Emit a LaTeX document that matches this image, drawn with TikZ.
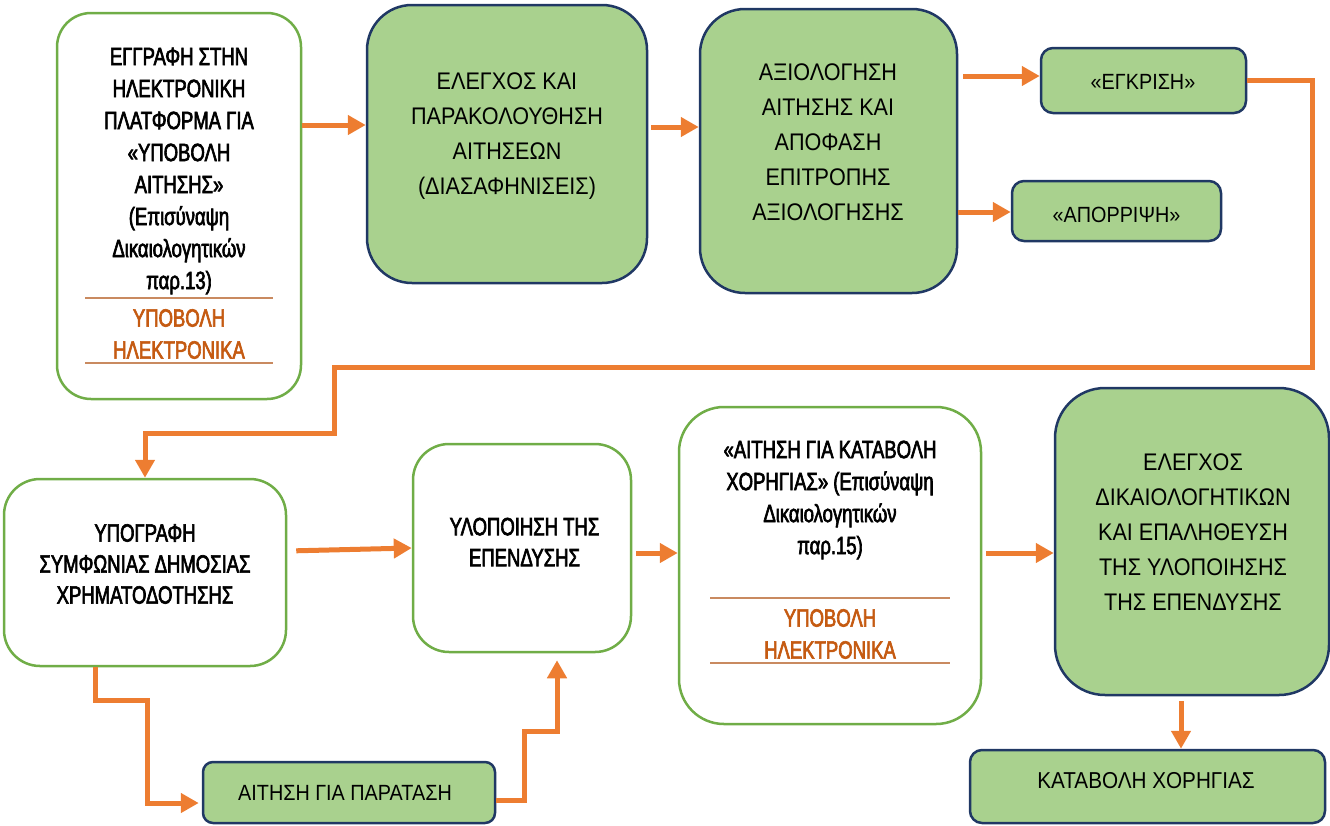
\documentclass[tikz,border=0pt]{standalone}
\usepackage{fontspec}
\setmainfont{Liberation Sans}[FakeStretch=0.9]
\newfontfamily\narrowfont{Liberation Sans}[FakeStretch=0.74,FakeBold=2.5]
\usepackage{tikz}
\usetikzlibrary{arrows.meta}
\usetikzlibrary{calc}
\definecolor{fillgreen}{HTML}{A9D18E}
\definecolor{navy}{HTML}{203864}
\definecolor{leafgreen}{HTML}{70AD47}
\definecolor{flowor}{HTML}{ED7D31}
\definecolor{rust}{HTML}{C55A11}
\definecolor{tan}{HTML}{C98A60}
\tikzset{whitebox/.style={rectangle, draw=leafgreen, line width=2.5pt, fill=white}}
\tikzset{greenbox/.style={rectangle, draw=navy, line width=2.5pt, fill=fillgreen}}
\tikzset{flow/.style={draw=flowor, line width=5pt, -{Triangle[length=18pt,width=19pt]}}}
\tikzset{sepline/.style={draw=tan, line width=1.5pt}}
\tikzset{txt/.style={align=center, inner sep=0pt, font=\fontsize{24}{35}\selectfont}}
\tikzset{narrowtxt/.style={align=center, inner sep=0pt, font=\narrowfont\fontsize{25}{32}\selectfont}}
\tikzset{%
  apply style/.code={%
    \tikzset{#1}%
  }
}

\begin{document}
\begin{tikzpicture}[x=1pt,y=-1pt]
  \useasboundingbox (0,0) rectangle (1330,825);
  \foreach \x/\y/\w/\h/\r/\sty/\name in {
    179/206/244/386/34/whitebox/reg,
    507/144/280/278/45/greenbox/check,
    828.5/151/257/284/45/greenbox/eval,
    1143.5/80.5/205/65/12/greenbox/approve,
    1116.5/211/209/60/12/greenbox/reject,
    145/572.5/282/187/36/whitebox/sign,
    522/548/218/208/36/whitebox/impl,
    830/565.5/302/317/45/whitebox/claim,
    1192/541.5/274/307/50/greenbox/verify,
    349/792.5/292/61/10/greenbox/extend,
    1147.5/786.5/355/73/12/greenbox/pay%
  } {
    \node[apply style/.expand once=\sty, minimum width=\w, minimum height=\h,
      rounded corners=\r] (\name) at (\x,\y) {};
  }

  % texts
  \node[narrowtxt] (regtxt) at (179,171) {ΕΓΓΡΑΦΗ ΣΤΗΝ\\ΗΛΕΚΤΡΟΝΙΚΗ\\ΠΛΑΤΦΟΡΜΑ ΓΙΑ\\«ΥΠΟΒΟΛΗ\\ΑΙΤΗΣΗΣ»\\(Επισύναψη\\Δικαιολογητικών\\παρ.13)};
  \node[narrowtxt, text=rust] (regweb) at (179,334) {ΥΠΟΒΟΛΗ\\ΗΛΕΚΤΡΟΝΙΚΑ};
  \node[txt] (checktxt) at (507,136) {ΕΛΕΓΧΟΣ ΚΑΙ\\ΠΑΡΑΚΟΛΟΥΘΗΣΗ\\ΑΙΤΗΣΕΩΝ\\(ΔΙΑΣΑΦΗΝΙΣΕΙΣ)};
  \node[txt] (evaltxt) at (828,142) {ΑΞΙΟΛΟΓΗΣΗ\\ΑΙΤΗΣΗΣ ΚΑΙ\\ΑΠΟΦΑΣΗ\\ΕΠΙΤΡΟΠΗΣ\\ΑΞΙΟΛΟΓΗΣΗΣ};
  \node[txt, font=\fontsize{22}{30}\selectfont] (approvetxt) at (1143,82) {«ΕΓΚΡΙΣΗ»};
  \node[txt, font=\fontsize{22}{30}\selectfont] (rejecttxt) at (1116.5,215) {«ΑΠΟΡΡΙΨΗ»};
  \node[narrowtxt, font=\narrowfont\fontsize{25}{31}\selectfont] (signtxt) at (145,564) {ΥΠΟΓΡΑΦΗ\\ΣΥΜΦΩΝΙΑΣ ΔΗΜΟΣΙΑΣ\\ΧΡΗΜΑΤΟΔΟΤΗΣΗΣ};
  \node[narrowtxt, font=\narrowfont\fontsize{25}{31}\selectfont] (impltxt) at (524.5,542) {ΥΛΟΠΟΙΗΣΗ ΤΗΣ\\ΕΠΕΝΔΥΣΗΣ};
  \node[narrowtxt] (claimtxt) at (830,500) {«ΑΙΤΗΣΗ ΓΙΑ ΚΑΤΑΒΟΛΗ\\ΧΟΡΗΓΙΑΣ» (Επισύναψη\\Δικαιολογητικών\\παρ.15)};
  \node[narrowtxt, text=rust] (claimweb) at (830,634) {ΥΠΟΒΟΛΗ\\ΗΛΕΚΤΡΟΝΙΚΑ};
  \node[txt] (verifytxt) at (1193,532) {ΕΛΕΓΧΟΣ\\ΔΙΚΑΙΟΛΟΓΗΤΙΚΩΝ\\ΚΑΙ ΕΠΑΛΗΘΕΥΣΗ\\ΤΗΣ ΥΛΟΠΟΙΗΣΗΣ\\ΤΗΣ ΕΠΕΝΔΥΣΗΣ};
  \node[txt, font=\fontsize{22}{30}\selectfont] (extendtxt) at (345,793) {ΑΙΤΗΣΗ ΓΙΑ ΠΑΡΑΤΑΣΗ};
  \node[txt, font=\fontsize{23}{30}\selectfont] (paytxt) at (1146,781) {ΚΑΤΑΒΟΛΗ ΧΟΡΗΓΙΑΣ};

  % rules round the web note
  \draw[sepline] (85,298) -- (273,298);
  \draw[sepline] (85,363) -- (273,363);
  \draw[sepline] (710,598) -- (950,598);
  \draw[sepline] (710,663) -- (950,663);

  % arrows
  \draw[flow] (reg.east |- 0,125) -- (check.west |- 0,125);
  \draw[flow, shorten <=3pt] (check.east |- 0,127) -- (eval.west |- 0,127);
  \draw[flow, shorten <=5pt] (eval.east |- 0,76) -- (approve.west |- 0,76);
  \draw[flow] (eval.east |- 0,212) -- (reject.west |- 0,212);
  \draw[flow] (approve.east |- 0,80) -| (1312,367) -| (334,433) -| (sign.north);
  \draw[flow, shorten <=9pt] (sign.east |- 0,551) -- (impl.west |- 0,548);
  \draw[flow, shorten <=4pt] (impl.east |- 0,553) -- (claim.west |- 0,553);
  \draw[flow, shorten <=4pt] (claim.east |- 0,553) -- (verify.west |- 0,553);
  \draw[flow, shorten <=5pt] (verify.south -| 1181,0) -- (pay.north -| 1181,0);
  \draw[flow, shorten >=3pt] (sign.south -| 95,0) |- (147,700) |- (extend.west |- 0,803);
  \draw[flow, shorten >=7pt] (extend.east |- 0,800) -| (524,731) -| (impl.south -| 557,0);
\end{tikzpicture}
\end{document}
